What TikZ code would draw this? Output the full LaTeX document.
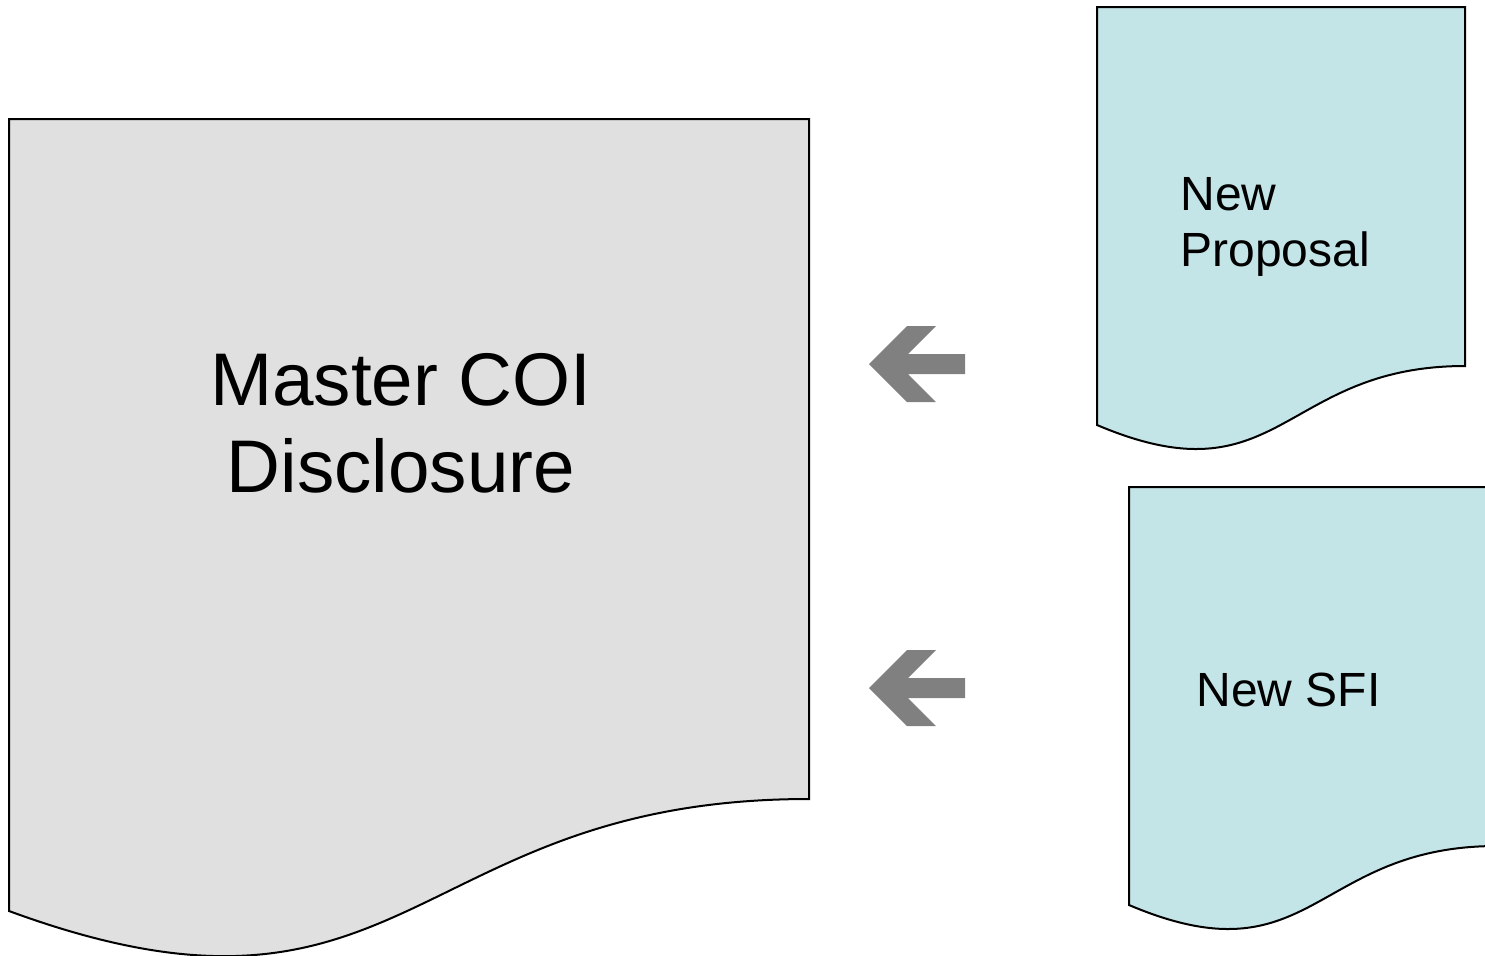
\documentclass[tikz,border=0pt]{standalone}
\usepackage{fontspec}
\setmainfont{Liberation Sans}
\definecolor{docgrey}{RGB}{224,224,224}
\definecolor{docteal}{RGB}{196,229,232}
\definecolor{arrgrey}{RGB}{128,128,128}
\begin{document}
\begin{tikzpicture}[x=0.5pt,y=-0.5pt,
  docshape/.style={draw=black,line width=1pt,line join=miter},
  bigtext/.style={font=\fontsize{37.3}{43.5}\selectfont,align=center,inner sep=0pt},
  smalltext/.style={font=\fontsize{24}{28}\selectfont,align=left,inner sep=0pt},
  blockarrow/.style={fill=arrgrey,draw=none}]
\useasboundingbox (0,0) rectangle (1485,955);
\clip (0,0) rectangle (1485,955);
% Master COI Disclosure document
\path[docshape,fill=docgrey] (9,119) -- (809,119) -- (809,799)
  .. controls (409,799) and (409,1058) .. (9,911) -- cycle;
\node[bigtext,anchor=base] (master) at (401,492) {Master COI\\Disclosure};
% New Proposal document
\path[docshape,fill=docteal] (1097,7) -- (1465,7) -- (1465,366)
  .. controls (1281,366) and (1281,503) .. (1097,425) -- cycle;
\node[smalltext,anchor=base west] (proposal) at (1180,266) {New\\Proposal};
% New SFI document
\path[docshape,fill=docteal] (1129,487) -- (1497,487) -- (1497,846)
  .. controls (1313,846) and (1313,983) .. (1129,905) -- cycle;
\node[smalltext,anchor=base west] (sfi) at (1196,706) {New SFI};
% block arrows
\fill[blockarrow] (869,364) -- (907,326) -- (936,326) -- (908,354) -- (965,354)
  -- (965,374) -- (908,374) -- (936,402) -- (907,402) -- cycle;
\fill[blockarrow] (869,688) -- (907,650) -- (936,650) -- (908,678) -- (965,678)
  -- (965,698) -- (908,698) -- (936,726) -- (907,726) -- cycle;
\end{tikzpicture}
\end{document}
